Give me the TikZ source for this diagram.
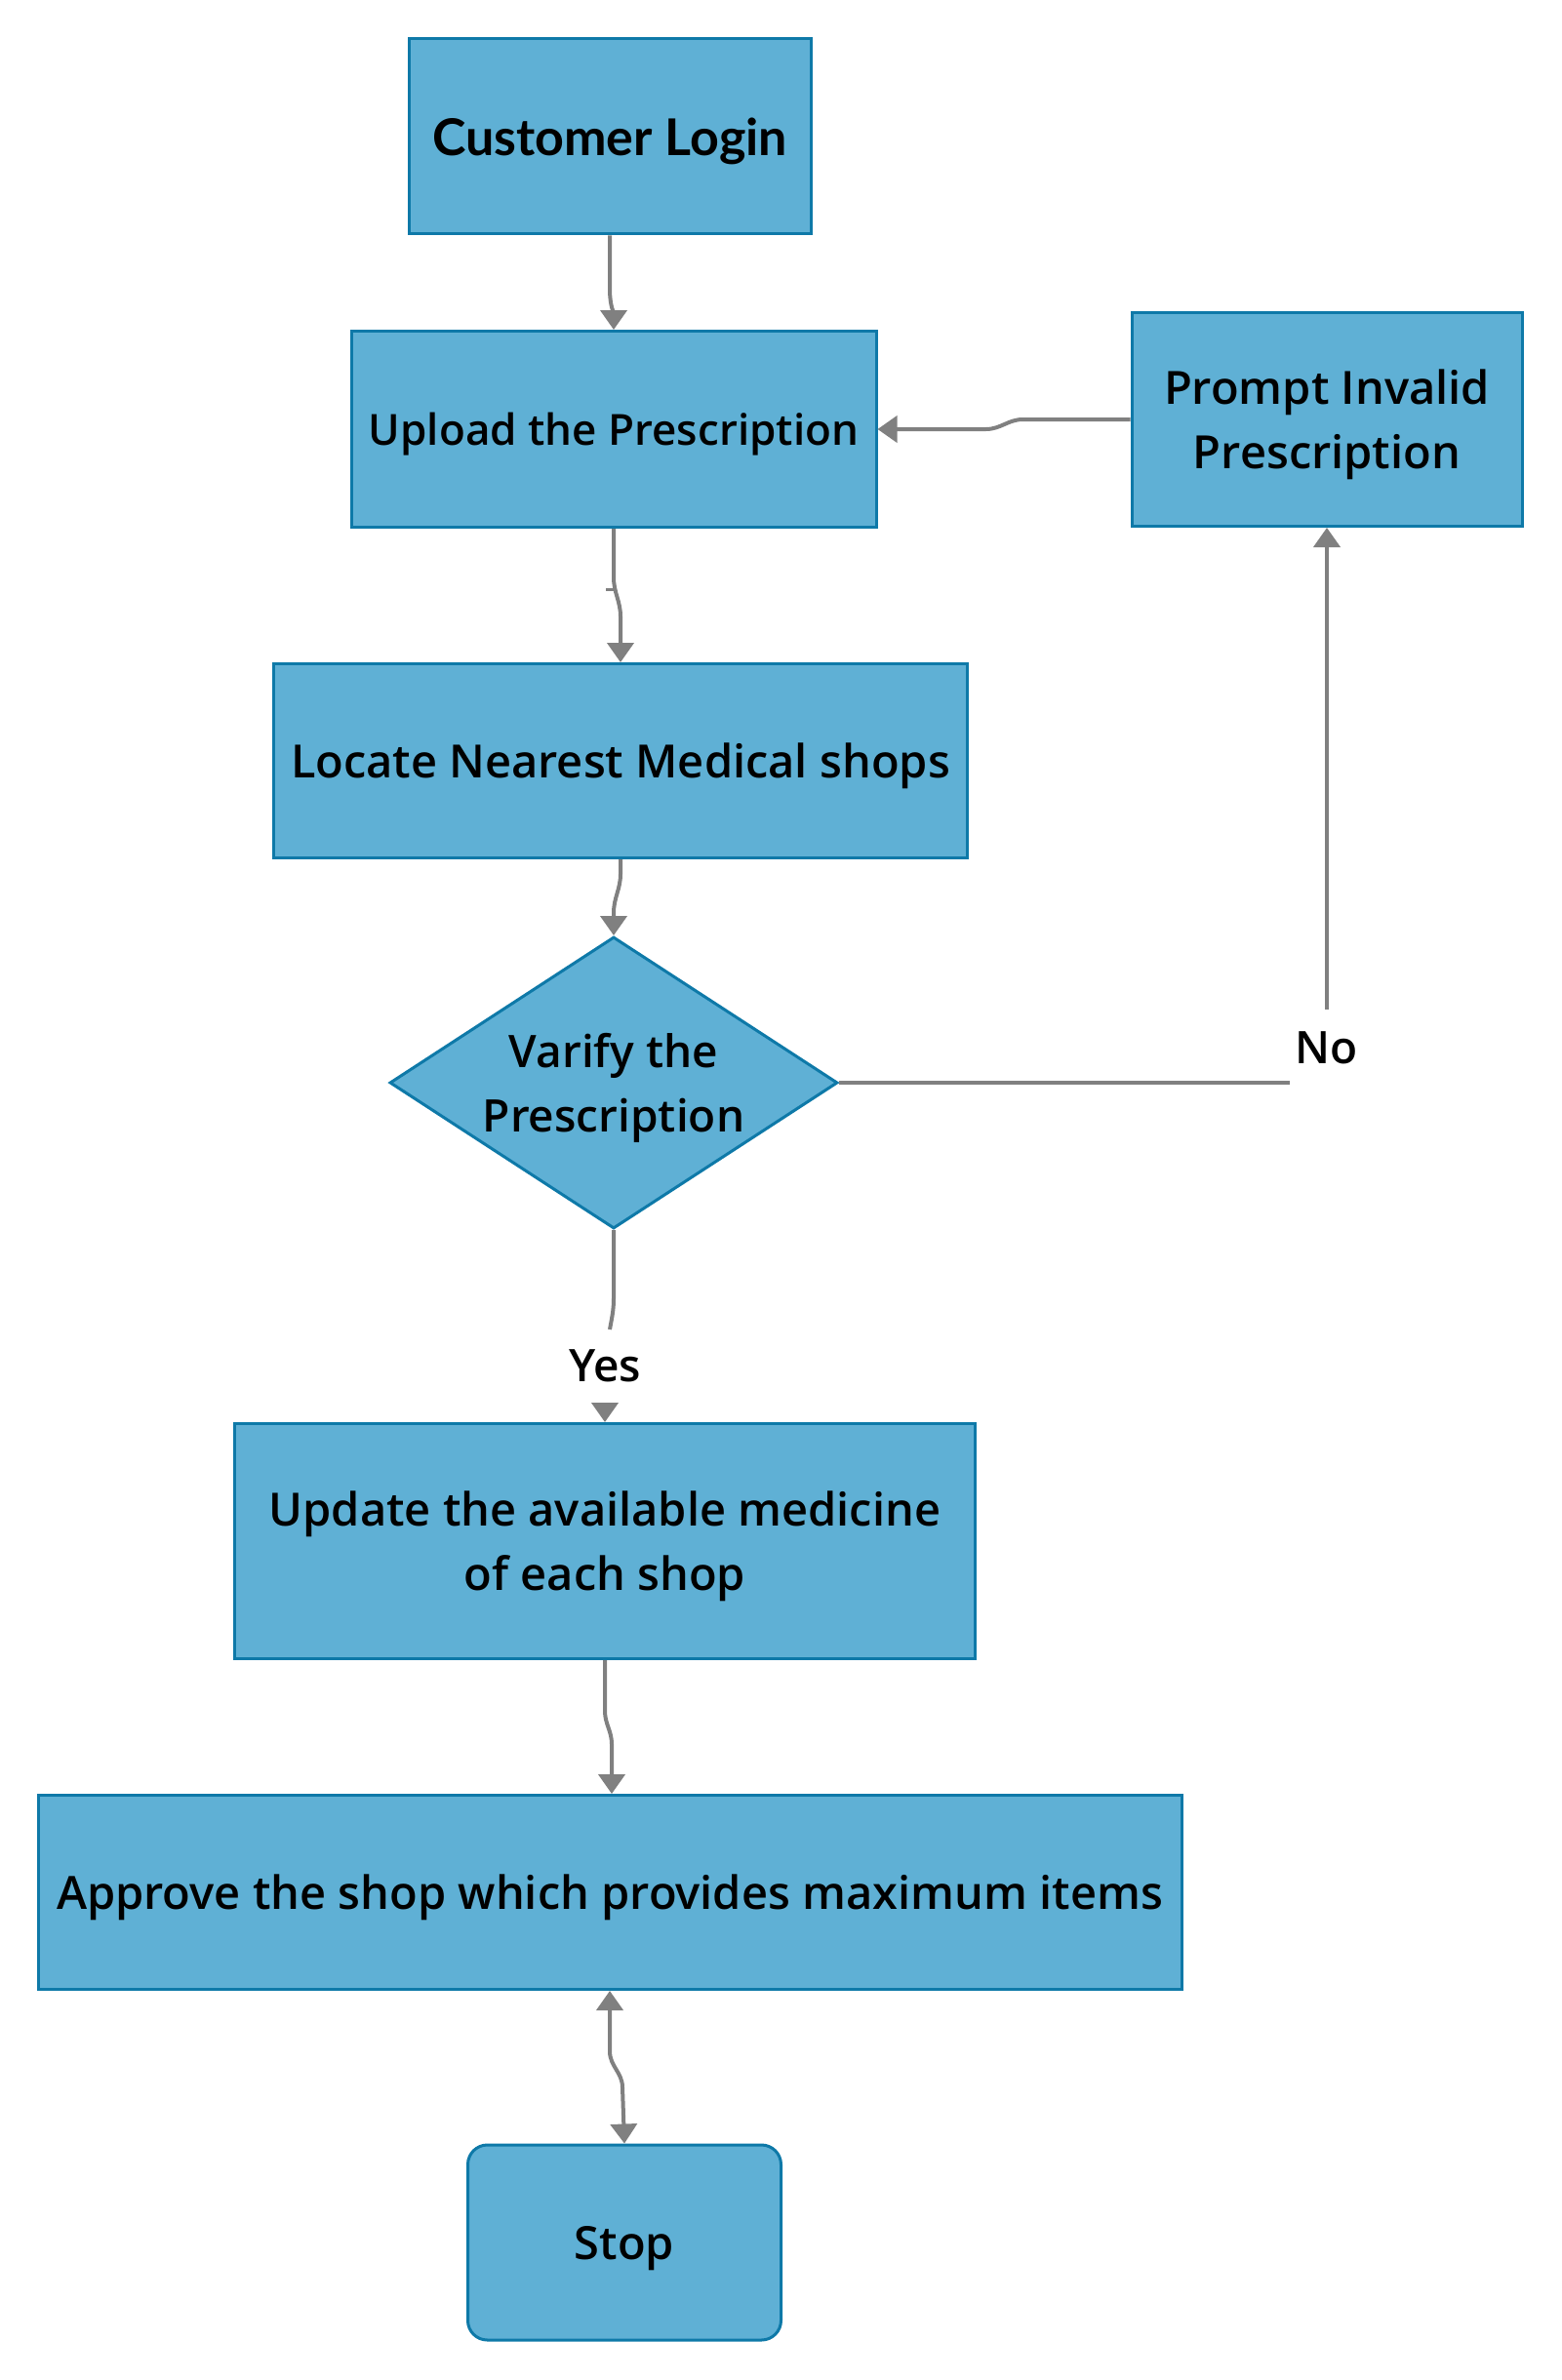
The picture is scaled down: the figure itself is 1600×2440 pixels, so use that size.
\documentclass[tikz,border=0pt]{standalone}
\usepackage{fontspec}
\IfFontExistsTF{Open Sans SemiBold}{\setmainfont{Open Sans SemiBold}}{%
  \IfFontExistsTF{Open Sans Semibold}{\setmainfont{Open Sans Semibold}}{%
    \setmainfont{Open Sans}[FakeBold=2.5]}}
\newfontfamily\latofont{Lato}
\usetikzlibrary{shapes.geometric,arrows.meta,calc}
\definecolor{fillc}{HTML}{5FB0D5}
\definecolor{bordc}{HTML}{0E79A8}
\definecolor{arrc}{HTML}{808080}
\tikzset{
  box/.style={draw=bordc, fill=fillc, line width=3pt, inner sep=0pt, align=center,
    text depth=0pt, font=\fontsize{47}{66}\selectfont},
  dia/.style={draw=bordc, fill=fillc, line width=3pt, shape=diamond, inner sep=0pt,
    minimum width=459pt, minimum height=299pt},
  lbl/.style={fill=white, inner sep=0pt, font=\fontsize{46}{66}\selectfont},
  wire/.style={draw=arrc, line width=4pt},
  conn/.style={wire, -{Triangle[width=27pt,length=20pt]}},
  conn2/.style={wire, {Triangle[width=27pt,length=20pt]}-{Triangle[width=27pt,length=20pt]}}
}
\begin{document}
\begin{tikzpicture}[x=1pt,y=-1pt]
\path[use as bounding box, fill=white] (0,0) rectangle (1600,2440);

\node[box, minimum width=412pt, minimum height=200pt, font=\latofont\bfseries\fontsize{52}{66}\selectfont] (login) at (625,140) {Customer Login};
\node[box, minimum width=538pt, minimum height=201pt, font=\fontsize{44}{66}\selectfont] (upload) at (629,440) {Upload the Prescription};
\node[box, minimum width=400pt, minimum height=219pt] (prompt) at (1360,430) {Prompt Invalid\\Prescription};
\node[box, minimum width=711pt, minimum height=199pt] (locate) at (636,780) {Locate Nearest Medical shops};
\node[dia, label={[align=center, text depth=0pt, font=\fontsize{46}{66}\selectfont]center:Varify the\\Prescription}] (dec) at (629,1110) {};
\node[box, minimum width=759pt, minimum height=241pt] (update) at (620,1580) {Update the available medicine\\of each shop};
\node[box, minimum width=1172pt, minimum height=199pt] (approve) at (625,1940) {Approve the shop which provides maximum items};
\node[box, rounded corners=20pt, minimum width=321pt, minimum height=200pt] (stop) at (640,2299) {Stop};

\node[lbl, minimum width=76pt, minimum height=78pt] (no) at (1360,1074) {No};
\node[lbl, minimum width=70pt, minimum height=80pt] (yes) at (620,1400) {Yes};

% connectors
\draw[conn] (login.south) -- ++(0,55) to[out=-90,in=90] (upload.north);
\draw[conn] (upload.south) -- ++(0,50) to[out=-90,in=90] ++(7,40) -- (locate.north);
\draw[wire, line width=3pt] ($(upload.south)+(-8,62)$) -- ++(8,0);
\draw[conn] (locate.south) -- ++(0,15) to[out=-90,in=90] ++(-7,40) -- (dec.north);
\draw[wire] (dec.east) -- (dec.east -| no.west);
\draw[conn] (no.north) -- (prompt.south);
\draw[conn] (prompt.west) -- ++(-110,0) to[out=180,in=0] ++(-38,10) -- (upload.east);
\draw[wire] (dec.south) -- ++(0,70) to[out=-90,in=80] ++(-4,32);
\draw[conn] (yes.south) -- (update.north);
\draw[conn] (update.south) -- ++(0,52) to[out=-90,in=90] ++(7,34) -- (approve.north -| 627,0);
\draw[conn2] (approve.south) -- ++(0,62) to[out=-90,in=90] ++(13,37) -- (stop.north);
\end{tikzpicture}
\end{document}
